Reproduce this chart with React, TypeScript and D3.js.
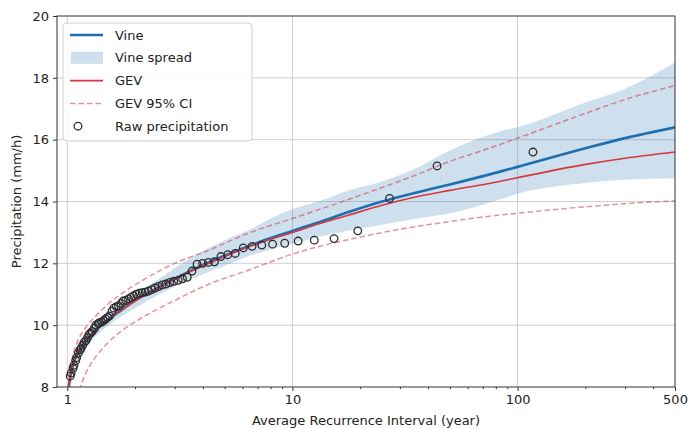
import React, { useEffect, useRef } from "react";
import * as d3 from "d3";

// return period (year) of each annual maximum, largest first
const returnPeriods = [
  117.0, 43.9, 27.0, 19.5, 15.3, 12.5, 10.6, 9.24, 8.16, 7.31,
  6.62, 6.05, 5.57, 5.16, 4.81, 4.5, 4.23, 3.99, 3.77, 3.58,
  3.41, 3.25, 3.11, 2.97, 2.85, 2.74, 2.64, 2.54, 2.45, 2.37,
  2.29, 2.22, 2.15, 2.09, 2.03, 1.97, 1.92, 1.87, 1.82, 1.77,
  1.73, 1.69, 1.65, 1.61, 1.58, 1.54, 1.51, 1.48, 1.45, 1.42,
  1.39, 1.37, 1.34, 1.32, 1.29, 1.27, 1.25, 1.23, 1.21, 1.19,
  1.17, 1.15, 1.14, 1.12, 1.1, 1.09, 1.07, 1.06, 1.04, 1.03,
];
const rawPrecip = [
  15.6, 15.15, 14.1, 13.05, 12.8, 12.75, 12.72, 12.65, 12.62, 12.59,
  12.55, 12.5, 12.32, 12.28, 12.22, 12.05, 12.03, 12.0, 11.97, 11.75,
  11.55, 11.5, 11.45, 11.42, 11.38, 11.33, 11.3, 11.25, 11.2, 11.15,
  11.1, 11.07, 11.05, 11.03, 11.0, 10.95, 10.9, 10.85, 10.8, 10.78,
  10.7, 10.62, 10.6, 10.55, 10.45, 10.3, 10.25, 10.2, 10.15, 10.1,
  10.08, 10.05, 10.0, 9.9, 9.8, 9.75, 9.7, 9.6, 9.5, 9.45,
  9.35, 9.25, 9.2, 9.1, 8.95, 8.85, 8.7, 8.6, 8.45, 8.35,
];

// model curves
const curveT = [1.01, 1.02, 1.03, 1.05, 1.08, 1.14, 1.2, 1.3, 1.5, 1.75, 2, 2.5, 3, 4, 5, 6.5, 8, 10, 13, 17.6, 25, 36, 50, 82, 100, 200, 300, 500];
const vine = [7.85, 8.1, 8.3, 8.6, 8.9, 9.2, 9.45, 9.75, 10.15, 10.5, 10.8, 11.2, 11.5, 11.95, 12.25, 12.58, 12.82, 13.05, 13.32, 13.65, 14.0, 14.3, 14.55, 14.95, 15.12, 15.72, 16.05, 16.4];
const gev = [7.9, 8.15, 8.35, 8.65, 8.95, 9.25, 9.5, 9.75, 10.15, 10.5, 10.78, 11.18, 11.48, 11.92, 12.22, 12.55, 12.78, 13.0, 13.27, 13.55, 13.88, 14.16, 14.36, 14.64, 14.77, 15.2, 15.4, 15.6];
const spreadLow = [7.6, 7.85, 8.05, 8.35, 8.65, 8.95, 9.25, 9.55, 9.95, 10.3, 10.55, 10.95, 11.25, 11.65, 11.92, 12.25, 12.45, 12.63, 12.85, 13.05, 13.25, 13.45, 13.62, 14.05, 14.25, 14.6, 14.7, 14.75];
const spreadHigh = [8.1, 8.35, 8.5, 8.8, 9.1, 9.45, 9.65, 9.95, 10.35, 10.7, 11.0, 11.45, 11.85, 12.4, 12.75, 13.1, 13.45, 13.75, 14.0, 14.35, 14.65, 15.1, 15.65, 16.25, 16.4, 17.2, 17.65, 18.5];

const ciT = [1.02, 1.05, 1.1, 1.2, 1.3, 1.5, 1.85, 2.1, 3, 4.17, 6.5, 10, 20, 36, 50, 70, 100, 200, 300, 500];
const ciUpper = [8.3, 8.9, 9.4, 9.9, 10.2, 10.65, 11.15, 11.4, 12.0, 12.4, 13.0, 13.45, 14.2, 14.88, 15.3, 15.65, 16.05, 16.85, 17.3, 17.75];
const ciLower = [6.0, 6.9, 7.6, 8.4, 8.85, 9.4, 9.95, 10.2, 10.8, 11.3, 11.8, 12.3, 12.85, 13.2, 13.35, 13.5, 13.62, 13.83, 13.93, 14.02];

const xTicks = [1, 10, 100, 500];
const yTicks = [8, 10, 12, 14, 16, 18, 20];
const legendLabels = ["Vine", "Vine spread", "GEV", "GEV 95% CI", "Raw precipitation"];

const BLUE = "#1f6fb0";
const RED = "#d6373f";
const FONT = "DejaVu Sans, sans-serif";

export default function App() {
  const svgRef = useRef<SVGSVGElement>(null);

  useEffect(() => {
    const width = 688;
    const height = 429;
    const m = { left: 57, right: 13, top: 16, bottom: 42 };
    const iw = width - m.left - m.right;
    const ih = height - m.top - m.bottom;

    const svg = d3.select(svgRef.current);
    svg.selectAll("*").remove();

    const x = d3.scaleLog().domain([0.9, 500]).range([0, iw]);
    const y = d3.scaleLinear().domain([8, 20]).range([ih, 0]);

    svg.append("defs").append("clipPath").attr("id", "plot-clip")
      .append("rect").attr("width", iw).attr("height", ih);

    const g = svg.append("g").attr("transform", `translate(${m.left},${m.top})`);

    // grid
    g.append("g").selectAll("line").data(xTicks.filter((t) => t < 500)).join("line")
      .attr("x1", (d) => x(d)).attr("x2", (d) => x(d)).attr("y1", 0).attr("y2", ih)
      .attr("stroke", "#cfcfcf").attr("stroke-width", 1);
    g.append("g").selectAll("line").data(yTicks.slice(1, -1)).join("line")
      .attr("x1", 0).attr("x2", iw).attr("y1", (d) => y(d)).attr("y2", (d) => y(d))
      .attr("stroke", "#cfcfcf").attr("stroke-width", 1);

    const plot = g.append("g").attr("clip-path", "url(#plot-clip)");

    const band = d3.area<number>()
      .x((_, i) => x(curveT[i]))
      .y0((_, i) => y(spreadLow[i]))
      .y1((_, i) => y(spreadHigh[i]))
      .curve(d3.curveMonotoneX);
    plot.append("path").datum(curveT).attr("d", band)
      .attr("fill", BLUE).attr("fill-opacity", 0.22);

    const lineOf = (ts: number[], vs: number[]) =>
      d3.line<number>().x((_, i) => x(ts[i])).y((_, i) => y(vs[i])).curve(d3.curveMonotoneX)(ts);

    plot.append("path").attr("d", lineOf(curveT, vine))
      .attr("fill", "none").attr("stroke", BLUE).attr("stroke-width", 2.6);
    plot.append("path").attr("d", lineOf(curveT, gev))
      .attr("fill", "none").attr("stroke", RED).attr("stroke-width", 1.6);
    [ciUpper, ciLower].forEach((ci) => {
      plot.append("path").attr("d", lineOf(ciT, ci))
        .attr("fill", "none").attr("stroke", RED).attr("stroke-opacity", 0.55)
        .attr("stroke-width", 1.5).attr("stroke-dasharray", "5.5,3");
    });

    plot.append("g").selectAll("circle").data(returnPeriods).join("circle")
      .attr("cx", (d) => x(d)).attr("cy", (_, i) => y(rawPrecip[i])).attr("r", 3.8)
      .attr("fill", "none").attr("stroke", "#2b2b2b").attr("stroke-width", 1.3);

    // axes
    const xAxis = g.append("g").attr("transform", `translate(0,${ih})`)
      .call(d3.axisBottom(x).tickValues(xTicks).tickFormat(d3.format("d")).tickSize(4).tickPadding(4));
    g.append("g").attr("transform", `translate(0,${ih})`)
      .call(d3.axisBottom(x).tickValues(x.ticks().filter((t) => !xTicks.includes(t) && t >= 1)).tickFormat(() => "").tickSize(2.2))
      .call((a) => a.select(".domain").remove())
      .selectAll("line").attr("stroke", "#333");
    const yAxis = g.append("g")
      .call(d3.axisLeft(y).tickValues(yTicks).tickSize(4).tickPadding(4));
    [xAxis, yAxis].forEach((a) => {
      a.selectAll("text").attr("font-family", FONT).attr("font-size", 13).attr("fill", "#222");
      a.selectAll("line").attr("stroke", "#333");
      a.select(".domain").remove();
    });

    g.append("rect").attr("width", iw).attr("height", ih)
      .attr("fill", "none").attr("stroke", "#333").attr("stroke-width", 1);

    svg.append("text").attr("x", m.left + iw / 2).attr("y", 425)
      .attr("text-anchor", "middle").attr("font-family", FONT).attr("font-size", 13).attr("fill", "#222")
      .text("Average Recurrence Interval (year)");
    svg.append("text").attr("transform", `translate(21,${m.top + ih / 2}) rotate(-90)`)
      .attr("text-anchor", "middle").attr("font-family", FONT).attr("font-size", 13).attr("fill", "#222")
      .text("Precipitation (mm/h)");

    // legend
    const lg = svg.append("g").attr("transform", "translate(63,23)");
    lg.append("rect").attr("width", 189).attr("height", 118).attr("rx", 4)
      .attr("fill", "white").attr("fill-opacity", 0.85).attr("stroke", "#d0d0d0");
    const item = lg.selectAll("g.item").data(legendLabels).join("g").attr("class", "item")
      .attr("transform", (_, i) => `translate(0,${12 + i * 22.8})`);
    item.append("text").attr("x", 52).attr("y", 4.5)
      .attr("font-family", FONT).attr("font-size", 13).attr("fill", "#222")
      .text((d) => d);
    item.each(function (_, i) {
      const s = d3.select(this);
      if (i === 0) s.append("line").attr("x1", 7).attr("x2", 40).attr("stroke", BLUE).attr("stroke-width", 2.6);
      if (i === 1) s.append("rect").attr("x", 8).attr("y", -6).attr("width", 32).attr("height", 12).attr("fill", BLUE).attr("fill-opacity", 0.22);
      if (i === 2) s.append("line").attr("x1", 7).attr("x2", 40).attr("stroke", RED).attr("stroke-width", 1.6);
      if (i === 3) s.append("line").attr("x1", 7).attr("x2", 40).attr("stroke", RED).attr("stroke-opacity", 0.55)
        .attr("stroke-width", 1.5).attr("stroke-dasharray", "5.5,3");
      if (i === 4) s.append("circle").attr("cx", 15).attr("r", 3.8).attr("fill", "none")
        .attr("stroke", "#2b2b2b").attr("stroke-width", 1.3);
    });
  }, []);

  return (
    <svg ref={svgRef} width={688} height={429}
      style={{ position: "absolute", left: 0, top: 0, background: "white" }} />
  );
}
